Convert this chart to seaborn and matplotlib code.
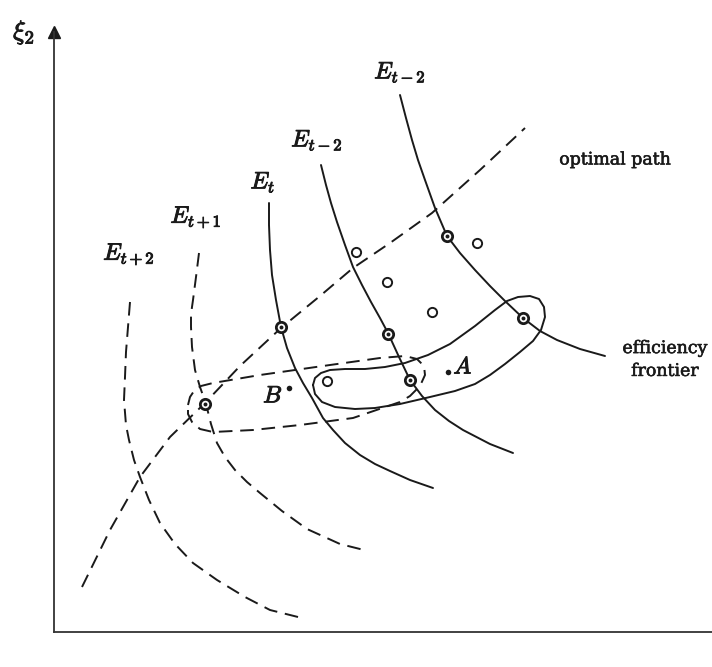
import matplotlib
matplotlib.use("Agg")
import matplotlib.pyplot as plt
import matplotlib.patheffects as pe
import pandas as pd
import seaborn as sns

sns.set_style("white")
plt.rcParams["mathtext.fontset"] = "cm"
plt.rcParams["font.family"] = ["DejaVu Serif", "DejaVu Sans"]

INK = "#1a1a1a"

# Iso-efficiency curves E (x, y), origin at the corner of the axes
e_tp2_x = [76, 74, 72, 71, 70, 72, 75, 80, 86, 95, 106, 121, 139, 163, 191, 216, 248]
e_tp2_y = [330, 305, 280, 255, 232, 207, 192, 172, 155, 132, 109, 88, 69, 52, 35, 22, 14]

e_tp1_x = [145, 142, 139, 137, 137, 138, 141, 146, 152, 157, 163, 171, 181, 193, 206, 228, 253, 286, 314]
e_tp1_y = [379, 355, 332, 318, 305, 285, 262, 245, 228, 208, 189, 175, 162, 150, 139, 121, 103, 88, 81]

e_t_x = [215, 215, 216, 218, 222, 227, 233, 241, 249, 258, 269, 279, 291, 306, 321, 336, 356, 379]
e_t_y = [429, 407, 382, 357, 332, 305, 284, 264, 249, 234, 214, 202, 189, 177, 168, 161, 152, 144]

e_tm1_x = [267, 272, 277, 283, 291, 299, 308, 317, 326, 334, 345, 356, 368, 381, 395, 409, 436, 459]
e_tm1_y = [467, 447, 429, 410, 387, 365, 347, 330, 314, 299, 275, 252, 236, 222, 211, 202, 188, 179]

e_tm2_x = [346, 352, 358, 364, 371, 381, 393, 406, 421, 436, 451, 469, 486, 503, 526, 551]
e_tm2_y = [537, 514, 492, 472, 452, 424, 396, 379, 362, 346, 331, 314, 301, 292, 283, 276]

# Optimal path
path_x = [28, 56, 86, 116, 151, 186, 227, 266, 299, 336, 378, 426, 471]
path_y = [45, 102, 155, 195, 229, 266, 304, 336, 364, 389, 419, 462, 504]

# Enclosing contours (solid and dashed)
loop_a_x = [259, 261, 267, 276, 291, 311, 331, 351, 374, 396, 421, 441, 453, 464,
            476, 485, 490, 491, 487, 479, 466, 451, 436, 421, 401, 376, 346, 321,
            301, 281, 268, 261]
loop_a_y = [247, 254, 259, 262, 263, 263, 265, 269, 277, 288, 306, 322, 331, 335,
            336, 333, 325, 315, 302, 291, 280, 268, 257, 248, 241, 235, 228, 224,
            223, 225, 230, 238]

loop_b_x = [134, 136, 140, 147, 159, 206, 276, 326, 351, 363, 370, 371, 366, 356,
            346, 299, 246, 199, 159, 146, 138, 134]
loop_b_y = [227, 235, 241, 246, 249, 257, 267, 274, 276, 273, 266, 257, 246, 236,
            230, 214, 207, 202, 200, 203, 210, 218]

# Observations
open_x = [302, 333, 378, 423, 273]
open_y = [380, 350, 320, 389, 251]

marked_x = [393, 334, 356, 469, 227, 151]
marked_y = [396, 298, 252, 314, 305, 228]

dot_x = [235, 394]
dot_y = [244, 260]
dot_labels = ["B", "A"]

curve_labels = [r"$E_{t+2}$", r"$E_{t+1}$", r"$E_t$", r"$E_{t-2}$", r"$E_{t-2}$"]
curve_label_x = [75, 142, 209, 263, 346]
curve_label_y = [378, 415, 450, 492, 560]

fig = plt.figure(figsize=(7.12, 6.67), dpi=100)
ax = fig.add_axes([54 / 712, 35 / 667, 658 / 712, 600 / 667])
ax.set_xlim(0, 658)
ax.set_ylim(0, 600)

heavy = [pe.withStroke(linewidth=0.7, foreground=INK)]
light = [pe.withStroke(linewidth=0.4, foreground=INK)]


def trace(xs, ys, dashed=False, closed=False):
    xs, ys = list(xs), list(ys)
    if closed:
        xs.append(xs[0])
        ys.append(ys[0])
    df = pd.DataFrame({"x": xs, "y": ys})
    kw = {"linestyle": (0, (7, 4))} if dashed else {}
    sns.lineplot(data=df, x="x", y="y", sort=False, estimator=None,
                 color=INK, lw=1.4, ax=ax, **kw)


trace(e_tp2_x, e_tp2_y, dashed=True)
trace(e_tp1_x, e_tp1_y, dashed=True)
trace(e_t_x, e_t_y)
trace(e_tm1_x, e_tm1_y)
trace(e_tm2_x, e_tm2_y)
trace(path_x, path_y, dashed=True)
trace(loop_a_x, loop_a_y, closed=True)
trace(loop_b_x, loop_b_y, dashed=True, closed=True)

sns.scatterplot(x=open_x, y=open_y, s=44, marker="o", facecolor="white",
                edgecolor=INK, linewidth=1.4, zorder=5, ax=ax)
sns.scatterplot(x=marked_x, y=marked_y, s=55, marker="o", facecolor="white",
                edgecolor=INK, linewidth=2.0, zorder=5, ax=ax)
sns.scatterplot(x=marked_x, y=marked_y, s=8, marker="o", color=INK,
                linewidth=0, zorder=6, ax=ax)
sns.scatterplot(x=dot_x, y=dot_y, s=16, marker="o", color=INK,
                linewidth=0, zorder=6, ax=ax)

for lab, x, y in zip(dot_labels, dot_x, dot_y):
    dx, dy = (-16, -8) if lab == "B" else (15, 5)
    ax.text(x + dx, y + dy, rf"$\mathit{{{lab}}}$", fontsize=17,
            ha="center", va="center", color=INK, path_effects=heavy)

for lab, x, y in zip(curve_labels, curve_label_x, curve_label_y):
    ax.text(x, y, lab, fontsize=17, ha="center", va="center", color=INK,
            path_effects=heavy)

ax.text(561, 472, "optimal path", fontsize=12.5, ha="center", va="center",
        color=INK, path_effects=light)
ax.text(611, 272, "efficiency\nfrontier", fontsize=12.5, ha="center",
        va="center", color=INK, linespacing=1.45, path_effects=light)

# y-axis arrowhead and label
ax.plot([0], [600], marker="^", markersize=8, color=INK, clip_on=False)
ax.text(-30, 600, r"$\xi_2$", fontsize=19, ha="center", va="center",
        color=INK, clip_on=False, path_effects=heavy)

sns.despine(ax=ax)
for side in ("left", "bottom"):
    ax.spines[side].set_color("#333333")
    ax.spines[side].set_linewidth(1.3)
ax.set(xlabel="", ylabel="", xticks=[], yticks=[])

fig.savefig("out.png", dpi=100)
